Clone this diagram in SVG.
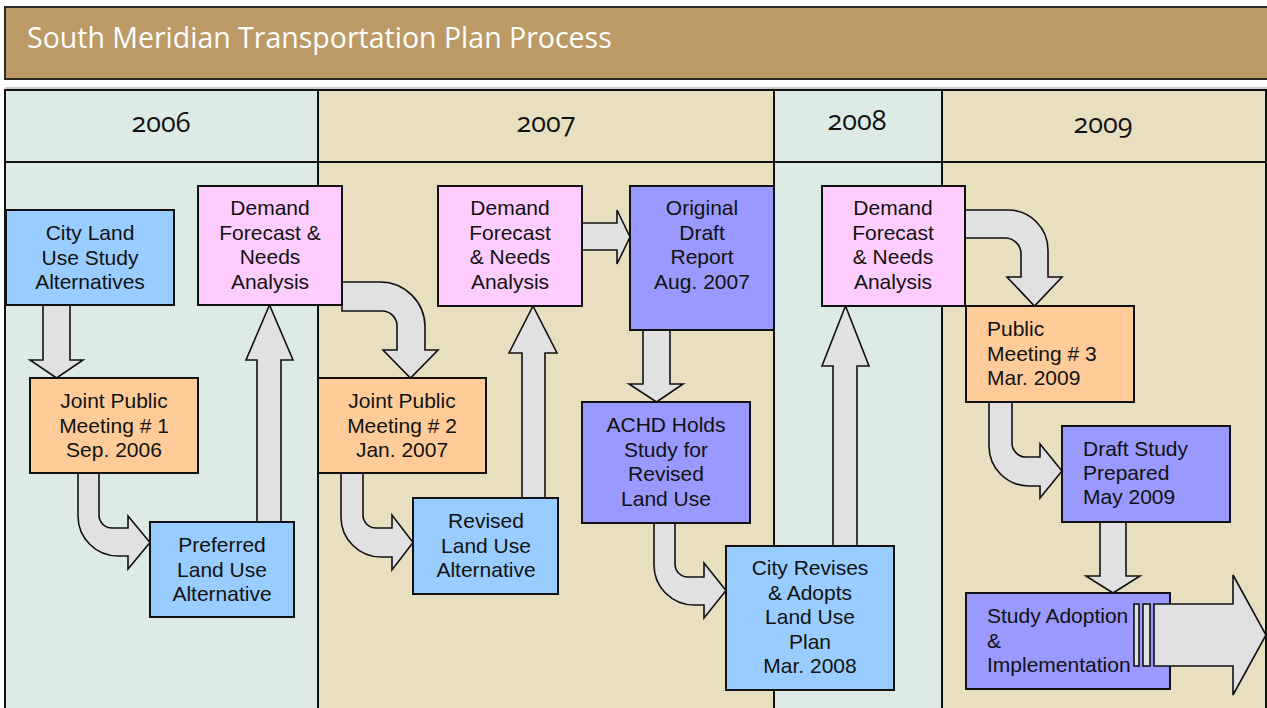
<svg xmlns="http://www.w3.org/2000/svg" width="1267" height="708" viewBox="0 0 1267 708">
<style>
.bgA{fill:#DDEBE7}
.bgB{fill:#E8DFC1}
.grid{fill:none;stroke:#111;stroke-width:2}
.year{font-family:"Open Sans","DejaVu Sans",sans-serif;font-size:27px;fill:#111;text-anchor:middle;font-variant-numeric:oldstyle-nums;font-feature-settings:"onum" 1}
.title{font-family:"Open Sans","DejaVu Sans",sans-serif;font-size:28.5px;fill:#fff}
.box{stroke:#111;stroke-width:2}
.blue{fill:#99CCFF}
.pink{fill:#FFCCFF}
.orange{fill:#FFCC99}
.purple{fill:#9999FF}
.t{font-family:"Liberation Sans",Arial,sans-serif;font-size:21px;fill:#111;text-anchor:middle}
.tl{font-family:"Liberation Sans",Arial,sans-serif;font-size:21px;fill:#111}
.arr{fill:#E1E1E1;stroke:#111;stroke-width:1.6;stroke-linejoin:miter}
</style>
<rect x="0" y="0" width="1267" height="708" fill="#ffffff"/>
<g id="title">
<rect x="5" y="7" width="1266" height="72" fill="#BC9A65" stroke="#2a2a2a" stroke-width="2"/>
<text class="title" x="27" y="48">South Meridian Transportation Plan Process</text>
</g>
<line x1="5" y1="88" x2="1267" y2="88" stroke="#999" stroke-width="1.2"/>
<g id="columns">
<rect class="bgA" x="5" y="90" width="313" height="622"/>
<rect class="bgB" x="318" y="90" width="456" height="622"/>
<rect class="bgA" x="774" y="90" width="168" height="622"/>
<rect class="bgB" x="942" y="90" width="324" height="622"/>
<rect class="grid" x="5" y="90" width="1261" height="630"/>
<line class="grid" x1="5" y1="162" x2="1266" y2="162"/>
<line class="grid" x1="318" y1="90" x2="318" y2="712"/>
<line class="grid" x1="774" y1="90" x2="774" y2="712"/>
<line class="grid" x1="942" y1="90" x2="942" y2="712"/>
<text class="year" x="161" y="132">2006</text>
<text class="year" x="546" y="132">2007</text>
<text class="year" x="857" y="130">2008</text>
<text class="year" x="1103" y="133">2009</text>
</g>
<g id="connectors">
<path class="arr" d="M43,305 V360 H30 L56.5,378 L83,360 H70 V305 Z"/>
<path class="arr" d="M78,473 V516 A40,40 0 0 0 118,556 H128 V569 L150,542.5 L128,516 V528 H112 A13,13 0 0 1 99,515 V473 Z"/>
<path class="arr" d="M257,522 V360 H246 L269.5,305 L293,360 H281 V522 Z"/>
<path class="arr" d="M342,282 H380 A45,45 0 0 1 425,327 V350 H438 L410.5,378 L383,350 H397 V326 A15,15 0 0 0 382,311 H342 Z"/>
<path class="arr" d="M341,473 V517 A40,40 0 0 0 381,557 H392 V570 L413,542.5 L392,515 V528 H376 A13,13 0 0 1 363,515 V473 Z"/>
<path class="arr" d="M522,498 V353 H509 L533,306 L557,353 H545 V498 Z"/>
<path class="arr" d="M582,223 H617 V210 L630,237 L617,264 V250 H582 Z"/>
<path class="arr" d="M643,330 V384 H629 L656.5,402 L683,384 H670 V330 Z"/>
<path class="arr" d="M654,523 V565 A40,40 0 0 0 694,605 H704 V618 L726,590.5 L704,563 V577 H688 A13,13 0 0 1 675,564 V523 Z"/>
<path class="arr" d="M833,546 V366 H822 L845.5,306 L869,366 H857 V546 Z"/>
<path class="arr" d="M965,210 H1008 A40,40 0 0 1 1048,250 V277 H1062 L1034.5,306 L1007,277 H1021 V254 A16,16 0 0 0 1005,238 H965 Z"/>
<path class="arr" d="M989,402 V446 A40,40 0 0 0 1029,486 H1040 V498 L1062,471 L1040,444 V457 H1026 A14,14 0 0 1 1012,443 V402 Z"/>
<path class="arr" d="M1100,522 V576 H1086 L1113,593 L1140,576 H1126 V522 Z"/>
</g>
<g id="n1">
<rect class="box blue" x="6" y="210" width="168" height="95"/>
<text class="t" x="90" y="240">City Land</text>
<text class="t" x="90" y="265">Use Study</text>
<text class="t" x="90" y="289">Alternatives</text>
</g>
<g id="n2">
<rect class="box pink" x="198" y="186" width="144" height="119"/>
<text class="t" x="270" y="215">Demand</text>
<text class="t" x="270" y="240">Forecast &amp;</text>
<text class="t" x="270" y="264">Needs</text>
<text class="t" x="270" y="289">Analysis</text>
</g>
<g id="n3">
<rect class="box orange" x="30" y="378" width="168" height="95"/>
<text class="t" x="114" y="408">Joint Public</text>
<text class="t" x="114" y="433">Meeting # 1</text>
<text class="t" x="114" y="457">Sep. 2006</text>
</g>
<g id="n4">
<rect class="box blue" x="150" y="522" width="144" height="95"/>
<text class="t" x="222" y="552">Preferred</text>
<text class="t" x="222" y="577">Land Use</text>
<text class="t" x="222" y="601">Alternative</text>
</g>
<g id="n5">
<rect class="box orange" x="318" y="378" width="168" height="95"/>
<text class="t" x="402" y="408">Joint Public</text>
<text class="t" x="402" y="433">Meeting # 2</text>
<text class="t" x="402" y="457">Jan. 2007</text>
</g>
<g id="n6">
<rect class="box blue" x="413" y="498" width="145" height="96"/>
<text class="t" x="486" y="528">Revised</text>
<text class="t" x="486" y="553">Land Use</text>
<text class="t" x="486" y="577">Alternative</text>
</g>
<g id="n7">
<rect class="box pink" x="438" y="186" width="144" height="120"/>
<text class="t" x="510" y="215">Demand</text>
<text class="t" x="510" y="240">Forecast</text>
<text class="t" x="510" y="264">&amp; Needs</text>
<text class="t" x="510" y="289">Analysis</text>
</g>
<g id="n8">
<rect class="box purple" x="630" y="186" width="144" height="144"/>
<text class="t" x="702" y="215">Original</text>
<text class="t" x="702" y="240">Draft</text>
<text class="t" x="702" y="264">Report</text>
<text class="t" x="702" y="289">Aug. 2007</text>
</g>
<g id="n9">
<rect class="box purple" x="582" y="402" width="168" height="121"/>
<text class="t" x="666" y="432">ACHD Holds</text>
<text class="t" x="666" y="457">Study for</text>
<text class="t" x="666" y="481">Revised</text>
<text class="t" x="666" y="506">Land Use</text>
</g>
<g id="n10">
<rect class="box blue" x="726" y="546" width="168" height="144"/>
<text class="t" x="810" y="575">City Revises</text>
<text class="t" x="810" y="600">&amp; Adopts</text>
<text class="t" x="810" y="624">Land Use</text>
<text class="t" x="810" y="649">Plan</text>
<text class="t" x="810" y="673">Mar. 2008</text>
</g>
<g id="n11">
<rect class="box pink" x="822" y="186" width="143" height="120"/>
<text class="t" x="893" y="215">Demand</text>
<text class="t" x="893" y="240">Forecast</text>
<text class="t" x="893" y="264">&amp; Needs</text>
<text class="t" x="893" y="289">Analysis</text>
</g>
<g id="n12">
<rect class="box orange" x="966" y="306" width="168" height="96"/>
<text class="tl" x="987" y="336">Public</text>
<text class="tl" x="987" y="361">Meeting # 3</text>
<text class="tl" x="987" y="385">Mar. 2009</text>
</g>
<g id="n13">
<rect class="box purple" x="1062" y="426" width="168" height="96"/>
<text class="tl" x="1083" y="456">Draft Study</text>
<text class="tl" x="1083" y="480">Prepared</text>
<text class="tl" x="1083" y="504">May 2009</text>
</g>
<g id="n14">
<rect class="box purple" x="966" y="593" width="204" height="96"/>
<text class="tl" x="987" y="623">Study Adoption</text>
<text class="tl" x="987" y="648">&amp;</text>
<text class="tl" x="987" y="672">Implementation</text>
</g>
<g id="bigarrow">
<rect class="arr" x="1134" y="604" width="5" height="62"/>
<rect class="arr" x="1143" y="604" width="7" height="62"/>
<path class="arr" d="M1154,604 H1233 V575 L1266,635 L1233,695 V666 H1154 Z"/>
</g>
</svg>
